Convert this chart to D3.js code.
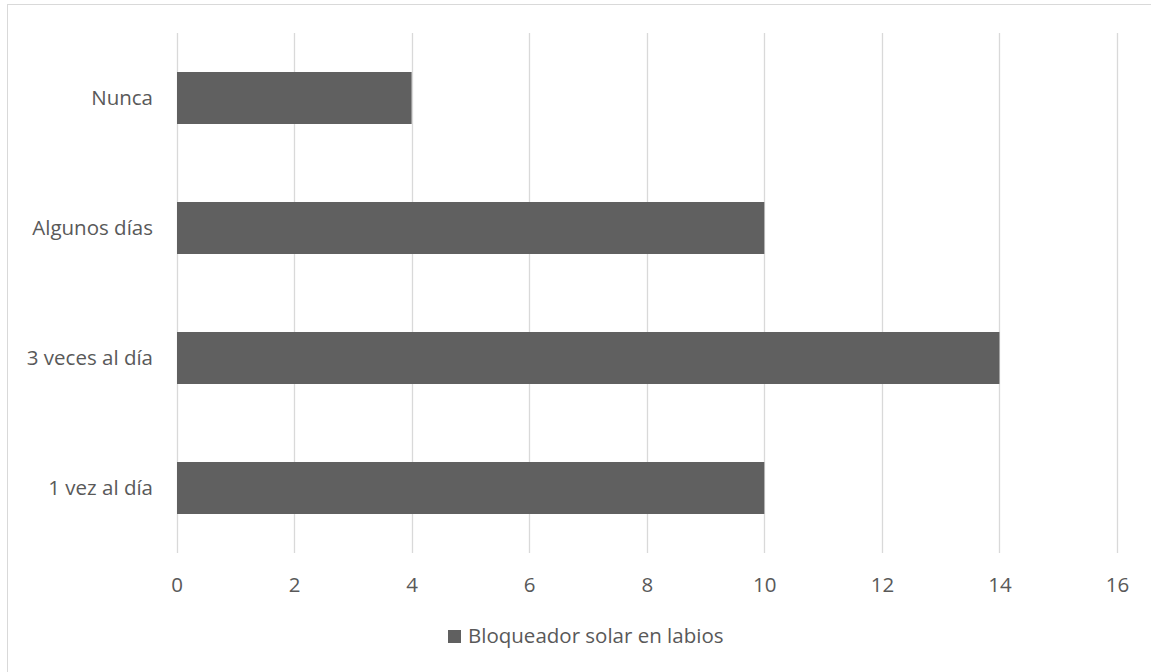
<!DOCTYPE html>
<html><head><meta charset="utf-8">
<script src="https://cdn.jsdelivr.net/npm/d3@7"></script>
<style>body{margin:0;background:#fff}svg{display:block}text{font-family:"Open Sans",sans-serif;fill:#595959}</style>
</head><body>
<script>
const categories = ["Nunca", "Algunos días", "3 veces al día", "1 vez al día"];
const values = [4, 10, 14, 10];
const seriesName = "Bloqueador solar en labios";
const xTicks = [0, 2, 4, 6, 8, 10, 12, 14, 16];

const W = 1151, H = 672;
const FS = "20.5px";
const svg = d3.select("body").append("svg").attr("width", W).attr("height", H);
svg.append("rect").attr("x", 7.5).attr("y", 4.5).attr("width", W + 10).attr("height", H + 10)
  .attr("fill", "#fff").attr("stroke", "#d9d9d9").attr("stroke-width", 1);

const x = d3.scaleLinear().domain([0, 16]).range([176.5, 1117]);
const y = d3.scaleBand().domain(categories).range([33, 553]).paddingInner(0.6).paddingOuter(0.3);

// gridlines
svg.append("g").selectAll("line").data(xTicks).join("line")
  .attr("x1", d => Math.round(x(d)) + 0.5).attr("x2", d => Math.round(x(d)) + 0.5)
  .attr("y1", 33).attr("y2", 553).attr("stroke", "#d9d9d9").attr("stroke-width", 1.3);

// bars
svg.append("g").selectAll("rect").data(values).join("rect")
  .attr("x", x(0) + 0.5).attr("y", (d, i) => y(categories[i]))
  .attr("width", d => x(d) - x(0) - 0.5).attr("height", y.bandwidth())
  .attr("fill", "#606060");

// x tick labels
const xAxis = d3.axisBottom(x).tickValues(xTicks).tickSize(0).tickPadding(0);
const gx = svg.append("g").attr("transform", "translate(0,592)").call(xAxis);
gx.select(".domain").remove();
gx.selectAll("text").attr("y", 0).attr("dy", "0").style("font-size", FS).style("font-family", "'Open Sans',sans-serif").attr("fill", "#595959");

// y labels
const yAxis = d3.axisLeft(y).tickSize(0).tickPadding(0);
const gy = svg.append("g").attr("transform", "translate(153,0)").call(yAxis);
gy.select(".domain").remove();
gy.selectAll("text").style("font-size", FS).style("font-family", "'Open Sans',sans-serif").attr("fill", "#595959");

// legend
const lg = svg.append("g");
lg.append("rect").attr("x", 448).attr("y", 630).attr("width", 13).attr("height", 13).attr("fill", "#606060");
lg.append("text").attr("x", 468).attr("y", 643).style("font-size", FS).text(seriesName);
</script>
</body></html>
